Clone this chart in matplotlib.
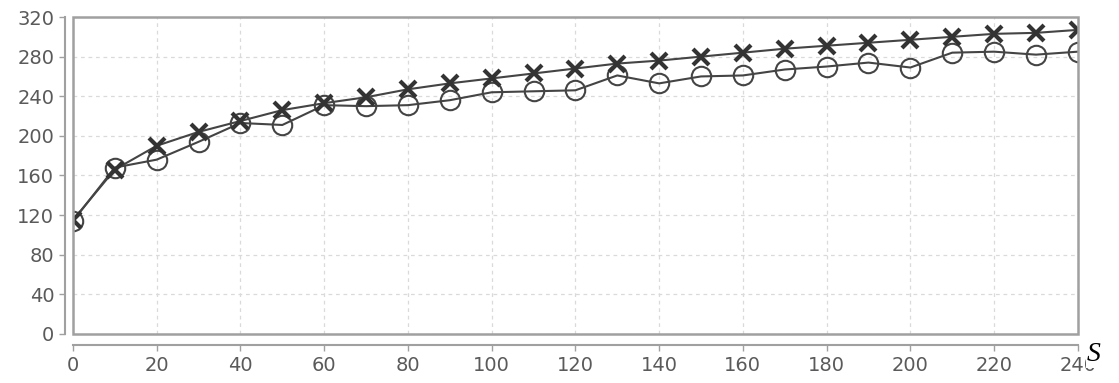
import numpy as np
import matplotlib
matplotlib.use("Agg")
import matplotlib.pyplot as plt
import matplotlib.ticker as ticker
from matplotlib.patches import Rectangle

#%% data
s = [0, 10, 20, 30, 40, 50, 60, 70, 80, 90, 100, 110, 120,
     130, 140, 150, 160, 170, 180, 190, 200, 210, 220, 230, 240]
cross = [115, 166, 190, 204, 215, 226, 233, 239, 247, 253, 258, 263, 268,
         273, 276, 280, 284, 288, 291, 294, 297, 300, 303, 304, 307]
circle = [114, 168, 176, 194, 213, 211, 231, 230, 231, 236, 244, 245, 246,
          261, 253, 260, 261, 267, 270, 274, 269, 284, 285, 282, 285]

line_col = '#444444'
axis_col = '#a0a0a0'
text_col = '#5a5a5a'

#%% plot
fig = plt.figure(figsize=(11.19, 3.83), dpi=100)
ax = fig.add_axes([0.0652, 0.128, 0.898, 0.8276])

l1, = ax.plot(s, circle, color=line_col, lw=1.5, marker='o', ms=14,
              mfc='none', mec=line_col, mew=1.5)
l2, = ax.plot(s, cross, color=line_col, lw=1.5, marker='x', ms=11,
              mec='#333333', mew=3)
# keep the markers inside the plot area
for ln in (l1, l2):
    ln.set_clip_box(ax.bbox)
    ln.set_clip_path(ax.patch)

ax.set_xlim(0, 240)
ax.set_ylim(0, 320)
ax.xaxis.set_major_locator(ticker.MultipleLocator(20))
ax.yaxis.set_major_locator(ticker.MultipleLocator(40))

ax.grid(True, color='#dadada', lw=0.9, ls=(0, (3, 3)))
ax.set_axisbelow(True)

# frame around the plot area, axis lines pushed out a little
for side in ['top', 'right']:
    ax.spines[side].set_visible(False)
ax.spines['left'].set_position(('outward', 6))
ax.spines['bottom'].set_position(('outward', 8))
for side in ['left', 'bottom']:
    ax.spines[side].set_color(axis_col)
    ax.spines[side].set_linewidth(1.5)
ax.add_patch(Rectangle((0, 0), 1, 1, transform=ax.transAxes, fill=False,
                       ec=axis_col, lw=1.8, zorder=5, clip_on=False))

ax.tick_params(colors=axis_col, labelcolor=text_col, labelsize=14,
               length=4, width=1)

fig.text(0.971, 0.042, 'S', fontsize=20, style='italic',
         family='Liberation Serif', color='black', ha='left', va='bottom',
         bbox=dict(fc='white', ec='none', pad=0.5))

plt.savefig('out.png', dpi=100)
